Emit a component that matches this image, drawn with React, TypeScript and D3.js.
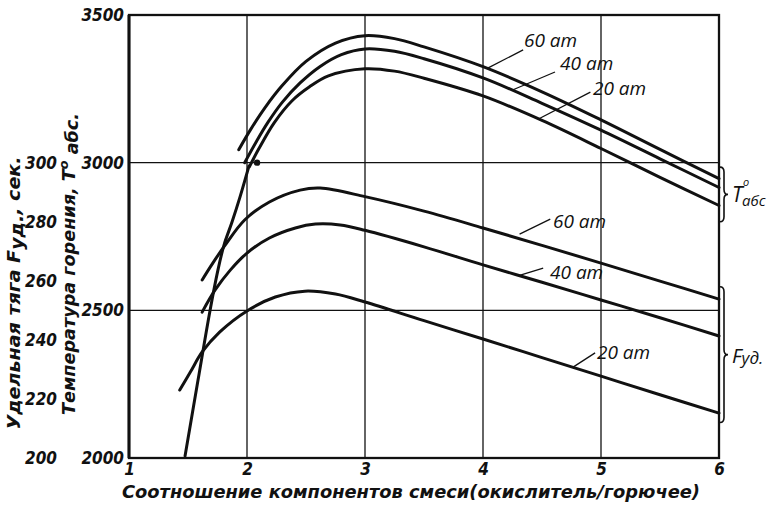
import { useEffect, useRef } from "react";
import * as d3 from "d3";

// axes
const ratioTicks = [1, 2, 3, 4, 5, 6];
const tempTicks = [2000, 2500, 3000, 3500];
const thrustTicks = [200, 220, 240, 260, 280, 300];
const gridRatio = [2, 3, 4, 5];
const gridTemp = [2500, 3000];

// combustion temperature, T abs. [ratio, K]
const temp60 = [[1.93, 3044], [2.03, 3112], [2.15, 3185], [2.3, 3262], [2.5, 3343], [2.75, 3405], [3.0, 3430], [3.25, 3420], [3.5, 3392], [4.0, 3325], [4.5, 3240], [5.0, 3145], [5.5, 3045], [6.0, 2946]];
const temp40 = [[1.98, 3000], [2.08, 3072], [2.18, 3138], [2.3, 3205], [2.45, 3270], [2.62, 3326], [2.8, 3366], [3.0, 3385], [3.25, 3377], [3.5, 3352], [4.0, 3287], [4.5, 3201], [5.0, 3110], [5.5, 3013], [6.0, 2916]];
const temp20 = [[2.02, 2986], [2.1, 3047], [2.23, 3135], [2.38, 3209], [2.53, 3257], [2.69, 3294], [3.0, 3318], [3.25, 3310], [3.5, 3286], [4.0, 3226], [4.5, 3143], [5.0, 3048], [5.5, 2950], [6.0, 2855]];
// steep boundary line, in temperature units
const boundary = [[1.475, 2007], [1.585, 2264], [1.686, 2498], [1.754, 2637], [1.805, 2721], [1.873, 2799], [1.941, 2884], [2.017, 2989]];
const boundaryDot = [2.085, 3000];

// specific thrust, F ud. [ratio, sec]
const thrust60 = [[1.62, 260.3], [1.71, 266.0], [1.81, 271.8], [1.98, 280.6], [2.19, 286.7], [2.45, 290.7], [2.62, 291.4], [3.0, 288.5], [3.5, 283.6], [4.0, 277.9], [4.5, 272.0], [5.0, 266.0], [5.5, 259.9], [6.0, 253.8]];
const thrust40 = [[1.62, 249.4], [1.73, 256.9], [1.86, 263.7], [2.0, 269.4], [2.19, 274.5], [2.41, 277.9], [2.58, 279.2], [2.79, 278.9], [3.0, 277.1], [3.5, 271.5], [4.0, 265.4], [4.5, 259.5], [5.0, 253.5], [5.5, 247.5], [6.0, 241.3]];
const thrust20 = [[1.43, 223.0], [1.52, 229.1], [1.62, 235.9], [1.77, 242.7], [2.0, 249.8], [2.24, 254.5], [2.49, 256.5], [2.75, 255.5], [3.0, 252.8], [3.5, 246.5], [4.0, 240.3], [4.5, 234.0], [5.0, 227.7], [5.5, 221.4], [6.0, 215.2]];

// curve labels
const pressures = ["60 ат", "40 ат", "20 ат"];
const tempLeaders = [[4.04, 3320, 4.34, 3382], [4.25, 3246, 4.61, 3307], [4.47, 3148, 4.91, 3239]];
const tempLabelAt = [[4.347, 3391], [4.653, 3314], [4.932, 3229]];
const thrustLeaders = [[4.31, 275.8, 4.57, 280.9], [4.31, 261.8, 4.51, 264.3], [4.76, 230.7, 4.95, 235.6]];
const thrustLabelAt = [[4.593, 277.9], [4.568, 260.6], [4.966, 233.5]];
const tempBrace = [2800, 2985];
const thrustBrace = [212, 258];

export default function App() {
  const svgRef = useRef<SVGSVGElement | null>(null);

  useEffect(() => {
    const width = 781, height = 510;
    const svg = d3.select(svgRef.current).attr("width", width).attr("height", height);
    svg.selectAll("*").remove();

    const plot = { left: 129, right: 719, top: 15, bottom: 458 };
    const x = d3.scaleLinear().domain([1, 6]).range([plot.left, plot.right]);
    const yT = d3.scaleLinear().domain([2000, 3500]).range([plot.bottom, plot.top]);
    const yF = d3.scaleLinear().domain([200, 300]).range([plot.bottom, yT(3000)]);

    const ink = "#111";
    const tickFont = '"DejaVu Sans Condensed", "DejaVu Sans", sans-serif';
    const noteFont = '"Open Sans", "DejaVu Sans", sans-serif';

    svg.append("rect").attr("width", width).attr("height", height).attr("fill", "#fff");

    // grid
    svg.append("g").selectAll("line").data(gridRatio).join("line")
      .attr("x1", d => x(d)).attr("x2", d => x(d))
      .attr("y1", plot.top).attr("y2", plot.bottom)
      .attr("stroke", ink).attr("stroke-width", 1.3);
    svg.append("g").selectAll("line").data(gridTemp).join("line")
      .attr("x1", plot.left).attr("x2", plot.right)
      .attr("y1", d => yT(d)).attr("y2", d => yT(d))
      .attr("stroke", ink).attr("stroke-width", 1.3);

    // frame
    svg.append("rect")
      .attr("x", plot.left).attr("y", plot.top)
      .attr("width", plot.right - plot.left).attr("height", plot.bottom - plot.top)
      .attr("fill", "none").attr("stroke", ink).attr("stroke-width", 2.3);
    svg.append("line").attr("x1", plot.left).attr("x2", plot.left).attr("y1", plot.top).attr("y2", plot.bottom)
      .attr("stroke", ink).attr("stroke-width", 3);

    // axes
    const styleTicks = (g: any) => {
      g.select(".domain").remove();
      g.selectAll("text")
        .attr("font-family", tickFont).attr("font-size", 17)
        .attr("font-weight", "bold").attr("font-style", "italic").attr("fill", ink);
    };
    svg.append("g").attr("transform", `translate(${plot.left},0)`)
      .call(d3.axisLeft(yT).tickValues(tempTicks).tickSize(0).tickPadding(5).tickFormat(d3.format("d")))
      .call(styleTicks);
    svg.append("g").attr("transform", `translate(59,0)`)
      .call(d3.axisLeft(yF).tickValues(thrustTicks).tickSize(0).tickPadding(2).tickFormat(d3.format("d")))
      .call(styleTicks);
    svg.append("g").attr("transform", `translate(0,${plot.bottom})`)
      .call(d3.axisBottom(x).tickValues(ratioTicks).tickSize(0).tickPadding(5).tickFormat(d3.format("d")))
      .call(styleTicks);

    // titles
    const title = (t: any) => t.attr("font-family", tickFont).attr("font-size", 18)
      .attr("font-weight", "bold").attr("font-style", "italic").attr("fill", ink)
      .attr("text-anchor", "middle").attr("lengthAdjust", "spacingAndGlyphs");
    svg.append("text").call(title)
      .attr("x", 411).attr("y", 498).attr("textLength", 578)
      .text("Соотношение  компонентов  смеси(окислитель/горючее)");

    const fTitle = svg.append("text").call(title)
      .attr("transform", "translate(20,293) rotate(-90)").attr("textLength", 273);
    fTitle.append("tspan").text("Удельная  тяга F");
    fTitle.append("tspan").attr("dy", 3).text("уд.");
    fTitle.append("tspan").attr("dy", -3).text(", сек.");

    const tTitle = svg.append("text").call(title)
      .attr("transform", "translate(75,264) rotate(-90)").attr("textLength", 302);
    tTitle.append("tspan").text("Температура горения, T");
    tTitle.append("tspan").attr("dy", -7).attr("font-size", 13).text("o");
    tTitle.append("tspan").attr("dy", 10).text(" абс.");

    // curves
    const curve = d3.curveCatmullRom.alpha(0.5);
    const lineT = d3.line<number[]>().x(d => x(d[0])).y(d => yT(d[1])).curve(curve);
    const lineF = d3.line<number[]>().x(d => x(d[0])).y(d => yF(d[1])).curve(curve);
    [temp60, temp40, temp20, boundary].forEach(s => {
      svg.append("path").attr("d", lineT(s)).attr("fill", "none")
        .attr("stroke", ink).attr("stroke-width", 3).attr("stroke-linecap", "round");
    });
    [thrust60, thrust40, thrust20].forEach(s => {
      svg.append("path").attr("d", lineF(s)).attr("fill", "none")
        .attr("stroke", ink).attr("stroke-width", 3).attr("stroke-linecap", "round");
    });
    svg.append("circle").attr("cx", x(boundaryDot[0])).attr("cy", yT(boundaryDot[1])).attr("r", 3.2).attr("fill", ink);

    // leaders and labels
    const labels = (leaders: number[][], at: number[][], y: any) => {
      leaders.forEach((l, i) => {
        svg.append("line")
          .attr("x1", x(l[0])).attr("y1", y(l[1])).attr("x2", x(l[2])).attr("y2", y(l[3]))
          .attr("stroke", ink).attr("stroke-width", 1.3);
        svg.append("text")
          .attr("x", x(at[i][0])).attr("y", y(at[i][1]))
          .attr("font-family", noteFont).attr("font-size", 19).attr("font-style", "italic")
          .attr("fill", ink).text(pressures[i]);
      });
    };
    labels(tempLeaders, tempLabelAt, yT);
    labels(thrustLeaders, thrustLabelAt, yF);

    // braces on the right
    const brace = (y1: number, y2: number) => {
      const bx = plot.right + 1, w = 8, r = 5, ym = (y1 + y2) / 2;
      const p = `M${bx},${y1} Q${bx + w / 2},${y1} ${bx + w / 2},${y1 + r} L${bx + w / 2},${ym - r} ` +
        `Q${bx + w / 2},${ym} ${bx + w},${ym} Q${bx + w / 2},${ym} ${bx + w / 2},${ym + r} ` +
        `L${bx + w / 2},${y2 - r} Q${bx + w / 2},${y2} ${bx},${y2}`;
      svg.append("path").attr("d", p).attr("fill", "none").attr("stroke", ink).attr("stroke-width", 1.6);
      return { tip: bx + w, ym };
    };
    const bt = brace(yT(tempBrace[1]), yT(tempBrace[0]));
    const noteText = (tx: number, ty: number, size: number, s: string) =>
      svg.append("text").attr("x", tx).attr("y", ty).attr("font-family", noteFont)
        .attr("font-size", size).attr("font-style", "italic").attr("fill", ink).text(s);
    noteText(bt.tip + 4, bt.ym + 8, 21, "T");
    noteText(bt.tip + 15, bt.ym - 8, 11, "o");
    noteText(bt.tip + 14, bt.ym + 12, 15, "абс");

    const bf = brace(yF(thrustBrace[1]), yF(thrustBrace[0]));
    const fl = noteText(bf.tip + 4, bf.ym + 8, 20, "F");
    fl.append("tspan").attr("font-size", 17).attr("dy", 1).text("уд.");
  }, []);

  return <svg ref={svgRef} style={{ position: "absolute", left: 0, top: 0 }} />;
}
